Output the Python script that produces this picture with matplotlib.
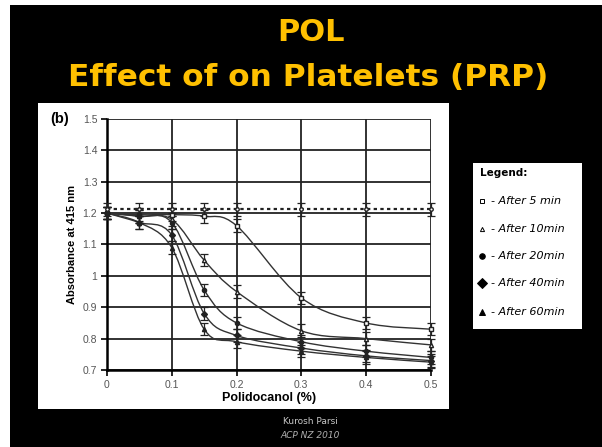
import matplotlib
matplotlib.use("Agg")
import matplotlib.pyplot as plt
from matplotlib.path import Path
from matplotlib.patches import PathPatch, Rectangle

# data
conc = [0, 0.05, 0.1, 0.15, 0.2, 0.3, 0.4, 0.5]
control = [1.212, 1.212, 1.212, 1.212, 1.212, 1.212, 1.212, 1.212]
after5 = [1.20, 1.195, 1.195, 1.19, 1.16, 0.93, 0.85, 0.83]
after10 = [1.20, 1.19, 1.18, 1.05, 0.95, 0.825, 0.80, 0.78]
after20 = [1.20, 1.19, 1.17, 0.955, 0.85, 0.79, 0.76, 0.74]
after40 = [1.20, 1.17, 1.13, 0.88, 0.81, 0.77, 0.745, 0.73]
after60 = [1.20, 1.17, 1.09, 0.83, 0.79, 0.76, 0.74, 0.725]
err = 0.02

legend_labels = ["- After 5 min", "- After 10min", "- After 20min",
                 "- After 40min", "- After 60min"]
legend_markers = ["s", "^", "o", "D", "^"]
legend_filled = [False, False, True, True, True]

gold = "#FFC000"


def smooth_path(xs, ys):
    # excel style smoothed line, bezier segments through the points
    verts = [(xs[0], ys[0])]
    codes = [Path.MOVETO]
    n = len(xs)
    for i in range(n - 1):
        x0, y0 = xs[max(i - 1, 0)], ys[max(i - 1, 0)]
        x1, y1 = xs[i], ys[i]
        x2, y2 = xs[i + 1], ys[i + 1]
        x3, y3 = xs[min(i + 2, n - 1)], ys[min(i + 2, n - 1)]
        c1 = (x1 + (x2 - x0) / 6, y1 + (y2 - y0) / 6)
        c2 = (x2 - (x3 - x1) / 6, y2 - (y3 - y1) / 6)
        verts += [c1, c2, (x2, y2)]
        codes += [Path.CURVE4] * 3
    return Path(verts, codes)


fig = plt.figure(figsize=(6.02, 4.47), dpi=100)
fig.patch.set_facecolor("white")
fig.add_artist(Rectangle((0.0166, 0), 1, 0.9888, transform=fig.transFigure,
                         facecolor="black", edgecolor="none", zorder=0))
# white panel behind the chart
fig.add_artist(Rectangle((0.0631, 0.085), 0.6827, 0.6846, transform=fig.transFigure,
                         facecolor="white", edgecolor="none", zorder=0))
# legend box
fig.add_artist(Rectangle((0.7857, 0.264), 0.181, 0.3714, transform=fig.transFigure,
                         facecolor="white", edgecolor="none", zorder=0))

fig.text(0.517, 0.928, "POL", color=gold, fontsize=22, fontweight="bold",
         ha="center", va="center")
fig.text(0.512, 0.826, "Effect of on Platelets (PRP)", color=gold, fontsize=22.5,
         fontweight="bold", ha="center", va="center")

fig.text(0.515, 0.058, "Kurosh Parsi", color="#c8c8c8", fontsize=6.5,
         ha="center", va="center")
fig.text(0.515, 0.025, "ACP NZ 2010", color="#b0b0b0", fontsize=6.5,
         style="italic", ha="center", va="center")

ax = fig.add_axes([0.1777, 0.1723, 0.538, 0.5615])
ax.set_facecolor("white")
ax.set_xlim(0, 0.5)
ax.set_ylim(0.7, 1.5)
ax.set_xticks([0, 0.1, 0.2, 0.3, 0.4, 0.5])
ax.set_xticklabels(["0", "0.1", "0.2", "0.3", "0.4", "0.5"])
ax.set_yticks([0.7, 0.8, 0.9, 1.0, 1.1, 1.2, 1.3, 1.4, 1.5])
ax.set_yticklabels(["0.7", "0.8", "0.9", "1", "1.1", "1.2", "1.3", "1.4", "1.5"])
ax.grid(True, color="#222222", linewidth=1.3)
ax.set_axisbelow(True)
for s in ["top", "right"]:
    ax.spines[s].set_visible(False)
for s in ["left", "bottom"]:
    ax.spines[s].set_linewidth(1.8)
ax.tick_params(direction="out", length=4, width=1.2, labelsize=7.5,
               labelcolor="#555555", pad=3)
for lab in ax.get_xticklabels() + ax.get_yticklabels():
    lab.set_family("Liberation Sans")
ax.set_xlabel("Polidocanol (%)", fontsize=9, fontweight="bold",
              family="Liberation Sans", labelpad=2)
ax.set_ylabel("Absorbance at 415 nm", fontsize=8, fontweight="bold",
              family="Liberation Sans", labelpad=4)
ax.text(-0.087, 1.5, "(b)", fontsize=10.5, fontweight="bold", family="Liberation Sans",
        ha="left", va="center", transform=ax.transData, clip_on=False)

series = [after5, after10, after20, after40, after60]
for ys, m, filled in zip(series, legend_markers, legend_filled):
    ax.add_patch(PathPatch(smooth_path(conc, ys), fill=False, edgecolor="#333333",
                           linewidth=1.0, zorder=3, clip_on=False))
    ax.errorbar(conc, ys, yerr=err, fmt=m, markersize=3,
                markerfacecolor="#222222" if filled else "white",
                markeredgecolor="#222222", ecolor="#222222", elinewidth=0.9,
                capsize=3, capthick=0.9, zorder=4, clip_on=False)

ax.plot(conc, control, linestyle=(0, (1.5, 1.5)), color="#222222", linewidth=1.6,
        zorder=3, clip_on=False)
ax.errorbar(conc, control, yerr=err, fmt="o", markersize=2.5,
            markerfacecolor="white", markeredgecolor="#222222", ecolor="#222222",
            elinewidth=0.9, capsize=3, capthick=0.9, zorder=4, clip_on=False)

# legend panel text
fig.text(0.798, 0.612, "Legend:", fontsize=7.5, fontweight="bold",
         ha="left", va="center")
leg_y = [0.550, 0.488, 0.427, 0.367, 0.302]
for yy, lab, m, filled in zip(leg_y, legend_labels, legend_markers, legend_filled):
    size = 3 if not filled else 4
    if m == "D":
        size = 5
    fig.lines.append(plt.Line2D([0.801], [yy], transform=fig.transFigure,
                                marker=m, markersize=size, linestyle="none",
                                markerfacecolor="black" if filled else "white",
                                markeredgecolor="black", markeredgewidth=0.7))
    fig.text(0.815, yy, lab, fontsize=8, style="italic", ha="left", va="center")

fig.savefig("out.png", dpi=100, facecolor=fig.get_facecolor())
